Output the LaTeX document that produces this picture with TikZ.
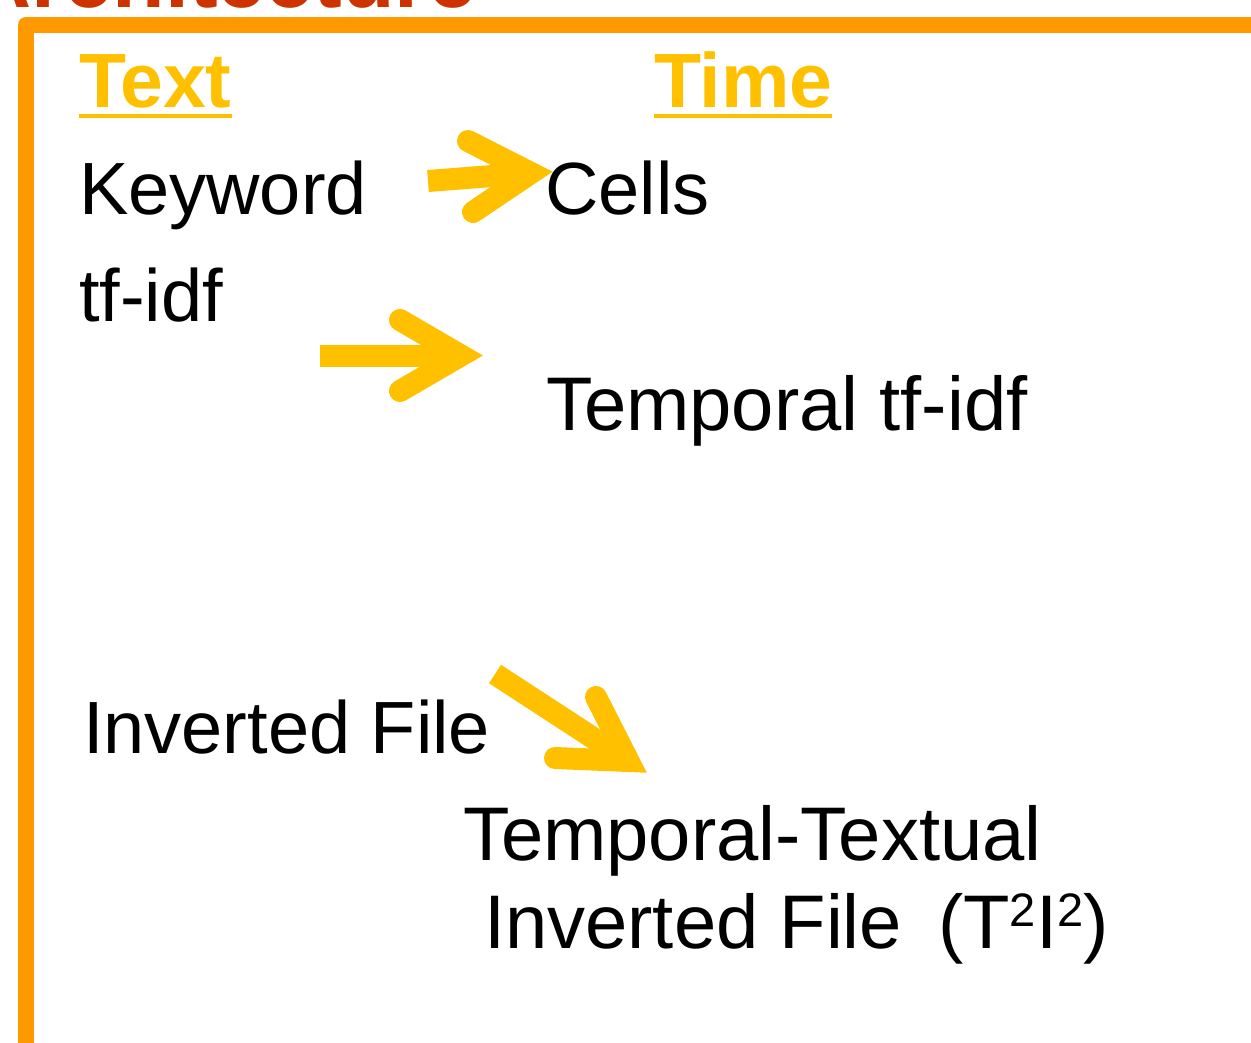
\documentclass[tikz,border=0pt]{standalone}
\usepackage{fontspec}
\setmainfont{Liberation Sans}
\definecolor{frameorange}{RGB}{255,153,0}
\definecolor{titlered}{RGB}{204,51,0}
\definecolor{arrowyellow}{RGB}{255,192,0}
\begin{document}
\begin{tikzpicture}[x=1pt,y=-1pt]
\tikzset{
  body/.style={inner sep=0pt, outer sep=0pt, anchor=base west, font=\fontsize{74}{80}\selectfont, text=black},
  bigbody/.style={body, font=\fontsize{76}{80}\selectfont},
  heading/.style={inner sep=0pt, outer sep=0pt, anchor=base west, font=\fontsize{77}{80}\selectfont\bfseries, text=arrowyellow},
  uline/.style={draw=arrowyellow, line width=4pt},
  shaft/.style={draw=arrowyellow, line width=22pt, line cap=butt},
  barb/.style={draw=arrowyellow, line width=22pt, line cap=round, line join=miter},
  frame/.style={draw=frameorange, line width=16pt, line join=round}
}
\useasboundingbox (0,0) rectangle (1251,1043);
% title (cut off at top, as in the reference)
\node[inner sep=0pt, outer sep=0pt, anchor=base east, font=\fontsize{86}{90}\selectfont\bfseries, text=titlered] (title) at (476,8) {Architecture};
% frame
\coordinate (fbl) at (26,1060);
\coordinate (ftl) at (26,25);
\coordinate (ftr) at (1270,25);
\draw[frame] (fbl) -- (ftl) -- (ftr);
% headings
\node[heading] (htext) at (79,108) {Text};
\node[heading] (htime) at (654,108) {Time};
\draw[uline] ([yshift=-8.5pt]htext.base west) -- ([yshift=-8.5pt]htext.base east);
\draw[uline] ([yshift=-8.5pt]htime.base west) -- ([yshift=-8.5pt]htime.base east);
% body text
\node[body] (keyword) at (79,215) {Keyword};
\node[body] (cells) at (545,215) {Cells};
\node[body] (tfidf) at (79,321) {tf-idf};
\node[bigbody] (ttfidf) at (546,430) {Temporal tf-idf};
\node[body] (invfile) at (83,753) {Inverted File};
\node[bigbody] (tt) at (463,860) {Temporal-Textual};
\node[bigbody] (tti) at (484,948) {Inverted File\hspace{36pt}(T\raisebox{22pt}{\fontsize{47}{47}\selectfont 2}I\raisebox{22pt}{\fontsize{47}{47}\selectfont 2})};
% arrow 1: Keyword -> Cells
\coordinate (a1s) at (428,181);
\coordinate (a1v) at (531,173);
\coordinate (a1u) at (468,141);
\coordinate (a1l) at (473,212);
\draw[shaft] (a1s) -- (a1v);
\draw[barb] (a1u) -- (a1v) -- (a1l);
% arrow 2: tf-idf -> Temporal tf-idf
\coordinate (a2s) at (320,355.5);
\coordinate (a2v) at (461,355.5);
\coordinate (a2u) at (400,320);
\coordinate (a2l) at (400,391);
\draw[shaft] (a2s) -- (a2v);
\draw[barb] (a2u) -- (a2v) -- (a2l);
% arrow 3: Inverted File -> T2I2
\coordinate (a3s) at (495,674);
\coordinate (a3v) at (628.5,761);
\coordinate (a3u) at (596,697);
\coordinate (a3l) at (555,758);
\draw[shaft] (a3s) -- (a3v);
\draw[barb] (a3u) -- (a3v) -- (a3l);
\end{tikzpicture}
\end{document}
